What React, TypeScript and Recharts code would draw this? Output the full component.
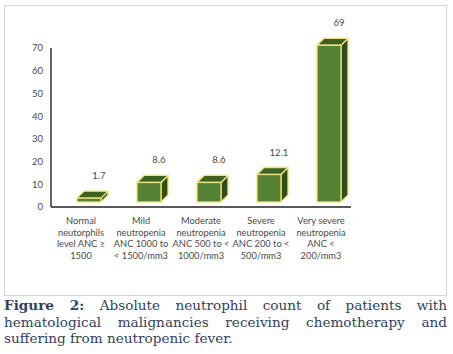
import { Bar, BarChart, LabelList, XAxis, YAxis } from 'recharts'

const categories = ['Normal', 'Mild', 'Moderate', 'Severe', 'Very severe']
const tickLines = [
  ['Normal', 'neutorphils', 'level ANC ≥', '1500'],
  ['Mild', 'neutropenia', 'ANC 1000 to', '< 1500/mm3'],
  ['Moderate', 'neutropenia', 'ANC 500 to <', '1000/mm3'],
  ['Severe', 'neutropenia', 'ANC 200 to <', '500/mm3'],
  ['Very severe', 'neutropenia', 'ANC <', '200/mm3']
]
const percents = [1.7, 8.6, 8.6, 12.1, 69]
const yTicks = [0, 10, 20, 30, 40, 50, 60, 70]

const data = categories.map((name, i) => ({ name, value: percents[i] }))

const SHIFT_X = 8
const SHIFT_Y = -5
const DEPTH = 7
const EDGE = '#f2e27a'

function BoxBar(props: any) {
  const { x, y, width, height } = props
  const fx = x + SHIFT_X
  const fy = y + SHIFT_Y
  const top = `${fx},${fy} ${fx + DEPTH},${fy - DEPTH} ${fx + width + DEPTH},${fy - DEPTH} ${fx + width},${fy}`
  const side = `${fx + width},${fy} ${fx + width + DEPTH},${fy - DEPTH} ${fx + width + DEPTH},${fy + height - DEPTH} ${fx + width},${fy + height}`
  return (
    <g>
      <polygon points={side} fill="#2f4f18" stroke={EDGE} strokeWidth={1.3} strokeLinejoin="round" />
      <polygon points={top} fill="#3b6220" stroke={EDGE} strokeWidth={1.3} strokeLinejoin="round" />
      <rect x={fx} y={fy} width={width} height={height} fill="#548235" stroke={EDGE} strokeWidth={1.3} />
    </g>
  )
}

function CategoryTick(props: any) {
  const { x, y, payload } = props
  const lines = tickLines[payload.index] || []
  return (
    <text x={x} y={y} textAnchor="middle" fontSize={9.3} fill="#4a4a4a" fontFamily="Lato">
      {lines.map((line, i) => (
        <tspan key={i} x={x} dy={i === 0 ? 9 : 11.7}>
          {line}
        </tspan>
      ))}
    </text>
  )
}

function ValueLabel(props: any) {
  const { x, y, width, value } = props
  return (
    <text
      x={x + width / 2 + SHIFT_X + 10}
      y={y + SHIFT_Y - 19}
      textAnchor="middle"
      fontSize={9.5}
      fill="#4a4a4a"
      fontFamily="Lato"
    >
      {value}
    </text>
  )
}

export default function App() {
  return (
    <div style={{ position: 'absolute', left: 0, top: 0, width: 453, height: 354, background: '#fff' }}>
      <div
        style={{
          position: 'absolute',
          left: 4,
          top: 5,
          width: 441,
          height: 289,
          border: '1px solid #d4d4d4'
        }}
      />
      <div style={{ position: 'absolute', left: 0, top: 0 }}>
        <BarChart width={453} height={300} data={data} margin={{ top: 48, right: 102, left: 11, bottom: 13 }}>
          <YAxis
            width={40}
            domain={[0, 70]}
            ticks={yTicks}
            interval={0}
            tickLine={false}
            axisLine={{ stroke: '#333', strokeWidth: 1.5 }}
            tick={{ fontSize: 9.5, fill: '#4a4a4a', fontFamily: 'Lato' }}
          />
          <XAxis
            dataKey="name"
            height={80}
            interval={0}
            tickLine={false}
            axisLine={{ stroke: '#222', strokeWidth: 1.5 }}
            tick={<CategoryTick />}
          />
          <Bar dataKey="value" barSize={24} shape={<BoxBar />} isAnimationActive={false}>
            <LabelList dataKey="value" content={<ValueLabel />} />
          </Bar>
        </BarChart>
      </div>
      <div
        style={{
          position: 'absolute',
          left: 4,
          top: 297,
          width: 443,
          fontFamily: '"DejaVu Serif", serif',
          fontSize: 13.6,
          lineHeight: '16.5px',
          color: '#2f4260'
        }}
      >
        <div style={{ textAlign: 'justify', textAlignLast: 'justify' }}>
          <b>Figure 2:</b> Absolute neutrophil count of patients with
        </div>
        <div style={{ textAlign: 'justify', textAlignLast: 'justify' }}>
          hematological malignancies receiving chemotherapy and
        </div>
        <div>suffering from neutropenic fever.</div>
      </div>
    </div>
  )
}
